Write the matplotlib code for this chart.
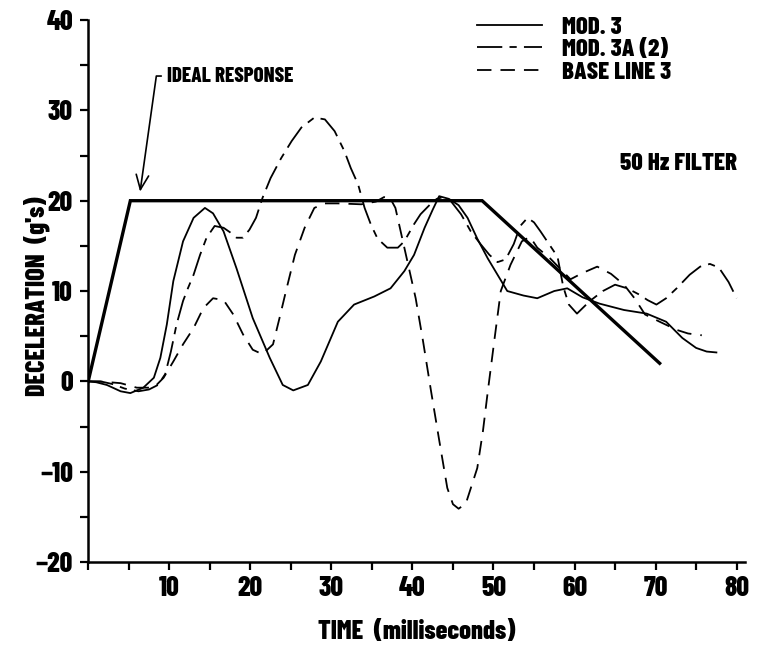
import matplotlib
matplotlib.use("Agg")
import matplotlib.pyplot as plt
from matplotlib.ticker import MultipleLocator

plt.rcParams['font.family'] = ['Barlow Condensed', 'DejaVu Sans']
plt.rcParams['font.weight'] = 800
W = 800

# ideal response
ideal_t = [0, 5.2, 48.6, 70.5]
ideal_g = [0, 20, 20, 2]

# MOD. 3 (solid)
mod3_t = [0, 1, 2.3, 4.0, 5.2, 6.8, 8.1, 8.9, 9.7, 10.5, 11.7, 13.0, 14.4, 15.4,
          16.7, 18.3, 20.3, 22.4, 24.0, 25.3, 27.1, 28.7, 30.8, 32.8, 35.3, 37.3,
          39.0, 40.2, 41.5, 42.5, 43.3, 44.5, 45.7, 46.8, 48.0, 49.3, 50.5, 51.7,
          53.7, 55.4, 57.5, 59.1, 61.0, 63.1, 66.1, 68.9, 71.3, 73.3, 75.0, 76.3, 77.5]
mod3_g = [0, -0.1, -0.4, -1.1, -1.3, -0.7, 0.4, 2.6, 6.3, 11.1, 15.5, 18.1, 19.2, 18.6,
          16.6, 12.5, 7.0, 2.6, -0.4, -1.0, -0.4, 2.2, 6.6, 8.5, 9.4, 10.3,
          12.2, 14.0, 17.0, 19.0, 20.5, 20.2, 19.5, 18.1, 15.8, 13.6, 11.8, 10.0,
          9.5, 9.2, 10.0, 10.3, 9.3, 8.6, 7.9, 7.5, 6.6, 4.8, 3.7, 3.3, 3.2]

# MOD. 3A (2) (dash-dot)
mod3a_t = [0, 1.5, 3.0, 4.5, 6.2, 7.5, 8.6, 9.5, 10.2, 10.9, 11.7, 12.3, 13.0, 13.8,
           14.6, 15.6, 16.7, 17.5, 18.3, 19.1, 19.9, 20.7, 21.5, 22.5, 23.8, 25.1,
           26.3, 27.9, 29.2, 30.4, 31.6, 32.4, 33.3, 34.1, 34.9, 35.7, 36.9, 38.2,
           39.0, 40.2, 41.0, 42.2, 43.0, 43.8, 44.7, 46.0, 47.2, 48.4, 49.5, 50.5,
           51.5, 52.5, 53.3, 54.2, 55.0, 55.8, 57.0, 57.9, 58.6, 59.3, 60.3, 61.9,
           63.5, 65.0, 66.5, 68.0, 69.0, 70.1, 71.3, 72.6, 74.2, 75.5, 76.7, 77.8,
           79.0, 80.0]
mod3a_g = [0, 0, -0.3, -0.8, -1.1, -0.9, -0.4, 0.8, 3.3, 6.3, 8.9, 10.3, 11.8, 14.0,
           15.9, 17.2, 17.0, 16.5, 15.9, 15.9, 16.8, 18.1, 20.3, 22.5, 24.7, 26.6,
           28.1, 29.2, 29.0, 27.7, 25.5, 23.6, 21.8, 19.2, 17.3, 15.8, 14.8, 14.8,
           15.5, 17.4, 18.5, 19.6, 20.2, 20.4, 20.0, 18.5, 16.6, 15.2, 14.0, 13.2,
           13.5, 15.2, 17.2, 18.1, 17.6, 16.6, 15.0, 13.8, 10.5, 8.5, 7.5, 8.9,
           10.0, 10.7, 10.3, 9.6, 9.0, 8.5, 9.2, 10.3, 11.8, 12.7, 13.0, 12.6,
           11.0, 9.2]

# BASE LINE 3 (dashed)
base_t = [0, 2, 4.0, 6.0, 8.1, 9.3, 10.5, 11.7, 13.0, 14.2, 15.4, 16.7, 17.9, 19.1,
          20.3, 21.5, 22.8, 23.6, 24.4, 25.5, 26.7, 27.9, 29.2, 30.8, 33.7, 35.5,
          36.5, 37.3, 37.9, 38.9, 40.4, 41.3, 42.3, 43.3, 44.3, 45.0, 45.7, 46.6,
          48.0, 48.7, 49.3, 50.1, 50.9, 52.1, 53.5, 54.5, 55.4, 57.0, 59.5, 61.0,
          62.8, 64.5, 66.1, 67.4, 68.7, 70.5, 72.6, 74.0, 75.7]
base_g = [0, -0.05, -0.2, -0.7, -0.7, 0.4, 2.2, 4.1, 5.9, 8.1, 9.2, 9.0, 7.4, 5.2,
          3.5, 3.0, 4.1, 7.0, 10.0, 14.0, 17.0, 19.2, 19.7, 19.7, 19.6, 19.9,
          20.4, 20.2, 19.2, 15.2, 9.2, 4.5, -1.1, -6.5, -11.8, -13.6, -14.1, -13.5,
          -9.6, -5.5, -1.1, 4.5, 10.0, 12.9, 15.5, 16.0, 14.8, 13.6, 11.3, 12.0,
          12.7, 11.9, 10.7, 9.2, 7.4, 6.6, 5.7, 5.3, 5.1]

x_ticks = [10, 20, 30, 40, 50, 60, 70, 80]
y_ticks = [-20, -10, 0, 10, 20, 30, 40]
y_tick_labels = ['\u221220', '\u221210', '0', '10', '20', '30', '40']

fig = plt.figure(figsize=(7.67, 6.46), dpi=100)
ax = fig.add_axes([0.115, 0.130, 0.856, 0.839])

ax.plot(ideal_t, ideal_g, color='black', lw=2.4, solid_joinstyle='miter')
l1, = ax.plot(mod3_t, mod3_g, color='black', lw=1.3, label='MOD. 3')
l2, = ax.plot(mod3a_t, mod3a_g, color='black', lw=1.3,
              linestyle=(0, (14, 4, 4, 4)), label='MOD. 3A (2)')
l3, = ax.plot(base_t, base_g, color='black', lw=1.3,
              linestyle=(0, (8, 5)), label='BASE LINE 3')

ax.set_xlim(0, 81)
ax.set_ylim(-20, 40)
ax.spines['top'].set_visible(False)
ax.spines['right'].set_visible(False)
for s in ('left', 'bottom'):
    ax.spines[s].set_linewidth(1.8)

ax.xaxis.set_minor_locator(MultipleLocator(5))
ax.yaxis.set_minor_locator(MultipleLocator(5))
ax.tick_params(which='both', direction='out', width=1.6, length=6, labelsize=20)
ax.tick_params(axis='x', pad=4)
ax.tick_params(axis='y', pad=5)
ax.set_xticks(x_ticks)
ax.set_xticklabels([str(t) for t in x_ticks], fontweight=W)
ax.set_yticks(y_ticks)
ax.set_yticklabels(y_tick_labels, fontweight=W)

ax.set_xlabel('TIME  (milliseconds)', fontsize=19, fontweight=W, labelpad=14)
ax.set_ylabel("DECELERATION  (g's)", fontsize=19, fontweight=W)
ax.yaxis.set_label_coords(-0.058, 0.49)

ax.annotate('IDEAL RESPONSE', xy=(6.4, 21.0), xytext=(9.7, 33.8),
            fontsize=15, fontweight=W, va='center', ha='left',
            arrowprops=dict(arrowstyle='->,head_length=0.7,head_width=0.3',
                            color='black', lw=1.2, relpos=(0, 0.5),
                            connectionstyle='angle,angleA=180,angleB=82,rad=0',
                            shrinkA=2, shrinkB=0))
ax.text(65.6, 24.1, '50 Hz FILTER', fontsize=18, fontweight=W,
        va='center', ha='left')

ax.legend(handles=[l1, l2, l3], loc='upper left',
          bbox_to_anchor=(0.622, 0.975), bbox_transform=fig.transFigure,
          frameon=False, borderpad=0, borderaxespad=0,
          handlelength=2.6, handletextpad=0.8,
          labelspacing=0.0, prop={'weight': W, 'size': 18})

fig.savefig('out.png', dpi=100)
